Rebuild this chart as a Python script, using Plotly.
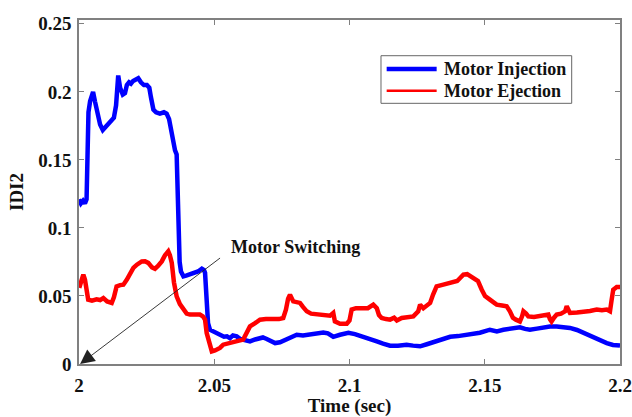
import plotly.graph_objects as go

# Motor Injection (blue)
inj_t = [2.0000, 2.0007, 2.0015, 2.0022, 2.0028, 2.0031, 2.0035, 2.0041, 2.0052, 2.0059,
         2.0067, 2.0078, 2.0088, 2.0100, 2.0115, 2.0129, 2.0137, 2.0142, 2.0145, 2.0152,
         2.0162, 2.0170, 2.0177, 2.0185, 2.0192, 2.0200, 2.0211, 2.0219, 2.0229, 2.0240,
         2.0251, 2.0260, 2.0266, 2.0275, 2.0285, 2.0299, 2.0314, 2.0324, 2.0333, 2.0340,
         2.0349, 2.0355, 2.0361, 2.0364, 2.0367, 2.0372, 2.0377, 2.0386, 2.0396, 2.0410,
         2.0425, 2.0440, 2.0454, 2.0462, 2.0466, 2.0470, 2.0472, 2.0477, 2.0484, 2.0495,
         2.0506, 2.0514, 2.0525, 2.0536, 2.0547, 2.0558, 2.0569, 2.0583, 2.0595, 2.0606,
         2.0621, 2.0632, 2.0651, 2.0669, 2.0680, 2.0694, 2.0706, 2.0725, 2.0743, 2.0768,
         2.0784, 2.0805, 2.0828, 2.0854, 2.0876, 2.0903, 2.0920, 2.0940, 2.0965, 2.0996,
         2.1020, 2.1051, 2.1076, 2.1101, 2.1124, 2.1150, 2.1179, 2.1211, 2.1235, 2.1261,
         2.1286, 2.1310, 2.1338, 2.1372, 2.1401, 2.1433, 2.1457, 2.1482, 2.1519, 2.1545,
         2.1569, 2.1601, 2.1630, 2.1649, 2.1667, 2.1693, 2.1716, 2.1741, 2.1766, 2.1789,
         2.1815, 2.1841, 2.1864, 2.1889, 2.1914, 2.1933, 2.1951, 2.1974, 2.2000]
inj_v = [0.121, 0.118, 0.120, 0.118, 0.121, 0.150, 0.185, 0.193, 0.200, 0.193,
         0.186, 0.176, 0.172, 0.175, 0.178, 0.181, 0.190, 0.207, 0.212, 0.203,
         0.198, 0.199, 0.205, 0.207, 0.206, 0.208, 0.209, 0.210, 0.207, 0.205,
         0.205, 0.203, 0.196, 0.187, 0.185, 0.184, 0.185, 0.184, 0.180, 0.172,
         0.1625, 0.157, 0.154, 0.120, 0.0865, 0.075, 0.068, 0.0644, 0.065, 0.0657,
         0.067, 0.068, 0.070, 0.069, 0.067, 0.050, 0.0377, 0.030, 0.0252, 0.024,
         0.023, 0.022, 0.0215, 0.020, 0.0203, 0.019, 0.021, 0.0203, 0.0185, 0.0179,
         0.0172, 0.0166, 0.018, 0.019, 0.0195, 0.0184, 0.017, 0.0154, 0.016, 0.0179,
         0.020, 0.0215, 0.021, 0.0215, 0.022, 0.0232, 0.0225, 0.020, 0.0215, 0.023,
         0.022, 0.020, 0.019, 0.0166, 0.015, 0.0135, 0.0135, 0.0142, 0.0135, 0.013,
         0.0145, 0.0159, 0.018, 0.020, 0.0205, 0.0215, 0.022, 0.023, 0.0252, 0.024,
         0.0252, 0.026, 0.027, 0.0258, 0.0252, 0.026, 0.027, 0.0275, 0.0276, 0.0272,
         0.0265, 0.025, 0.0228, 0.021, 0.0184, 0.017, 0.0154, 0.014, 0.0135]

# Motor Ejection (red)
ej_t = [2.0001, 2.0007, 2.0016, 2.0022, 2.0028, 2.0034, 2.0048, 2.0065, 2.0078, 2.0090,
        2.0104, 2.0121, 2.0129, 2.0139, 2.0152, 2.0164, 2.0177, 2.0189, 2.0201, 2.0214,
        2.0232, 2.0244, 2.0256, 2.0270, 2.0281, 2.0292, 2.0306, 2.0318, 2.0330, 2.0336,
        2.0343, 2.0351, 2.0361, 2.0373, 2.0386, 2.0398, 2.0410, 2.0429, 2.0447, 2.0458,
        2.0466, 2.0472, 2.0478, 2.0484, 2.0491, 2.0503, 2.0521, 2.0533, 2.0552, 2.0570,
        2.0588, 2.0607, 2.0617, 2.0632, 2.0651, 2.0669, 2.0691, 2.0718, 2.0739, 2.0755,
        2.0765, 2.0773, 2.0780, 2.0792, 2.0806, 2.0817, 2.0828, 2.0842, 2.0858, 2.0879,
        2.0902, 2.0928, 2.0940, 2.0946, 2.0965, 2.0990, 2.1000, 2.1008, 2.1024, 2.1039,
        2.1051, 2.1068, 2.1088, 2.1101, 2.1109, 2.1119, 2.1135, 2.1150, 2.1165, 2.1175,
        2.1193, 2.1213, 2.1236, 2.1254, 2.1261, 2.1273, 2.1287, 2.1298, 2.1309, 2.1322,
        2.1347, 2.1364, 2.1384, 2.1398, 2.1409, 2.1421, 2.1435, 2.1446, 2.1464, 2.1475,
        2.1489, 2.1501, 2.1519, 2.1544, 2.1564, 2.1581, 2.1593, 2.1604, 2.1615, 2.1630,
        2.1638, 2.1643, 2.1653, 2.1661, 2.1682, 2.1704, 2.1719, 2.1735, 2.1741, 2.1747,
        2.1756, 2.1766, 2.1782, 2.1797, 2.1803, 2.1810, 2.1815, 2.1841, 2.1864, 2.1889,
        2.1914, 2.1933, 2.1951, 2.1963, 2.1969, 2.1975, 2.1988, 2.2000]
ej_v = [0.0559, 0.060, 0.0657, 0.062, 0.052, 0.0473, 0.0465, 0.0475, 0.047, 0.0485,
        0.046, 0.0449, 0.049, 0.057, 0.058, 0.0583, 0.062, 0.066, 0.0706, 0.073,
        0.0754, 0.0755, 0.0743, 0.071, 0.070, 0.072, 0.0754, 0.080, 0.0828, 0.080,
        0.0743, 0.060, 0.0497, 0.044, 0.040, 0.037, 0.0363, 0.036, 0.0363, 0.035,
        0.0326, 0.0228, 0.0179, 0.012, 0.0093, 0.010, 0.0118, 0.0142, 0.0154, 0.0166,
        0.017, 0.0179, 0.022, 0.0276, 0.030, 0.0326, 0.033, 0.0326, 0.033, 0.0338,
        0.040, 0.048, 0.051, 0.046, 0.0455, 0.0449, 0.042, 0.0387, 0.037, 0.0363,
        0.036, 0.0355, 0.0375, 0.0313, 0.0296, 0.0296, 0.032, 0.040, 0.041, 0.041,
        0.0404, 0.041, 0.0436, 0.041, 0.036, 0.0338, 0.033, 0.0326, 0.034, 0.032,
        0.0338, 0.0345, 0.035, 0.0387, 0.0436, 0.041, 0.043, 0.0449, 0.051, 0.057,
        0.0583, 0.059, 0.0596, 0.061, 0.0632, 0.0657, 0.066, 0.0644, 0.062, 0.061,
        0.0546, 0.050, 0.0473, 0.0436, 0.043, 0.0424, 0.0387, 0.034, 0.0326, 0.0313,
        0.035, 0.0387, 0.037, 0.035, 0.0345, 0.035, 0.0355, 0.0363, 0.033, 0.0313,
        0.034, 0.0363, 0.037, 0.0387, 0.0424, 0.039, 0.0375, 0.0378, 0.038, 0.039,
        0.040, 0.0395, 0.040, 0.0387, 0.047, 0.0546, 0.0566, 0.0566]

series_names = ["Motor Injection", "Motor Ejection"]
series_colors = ["#0000ff", "#ff0000"]

x_ticks = [2, 2.05, 2.1, 2.15, 2.2]
x_tick_labels = ["2", "2.05", "2.1", "2.15", "2.2"]
y_ticks = [0, 0.05, 0.1, 0.15, 0.2, 0.25]
y_tick_labels = ["0", "0.05", "0.1", "0.15", "0.2", "0.25"]

# annotation: arrow head at switching instant, tail near label
switch_point = (2.0004, 0.0)
arrow_tail = (2.0527, 0.0787)
label_pos = (2.0553, 0.0862)
label_text = "Motor Switching"

FONT = "Liberation Serif"
TXT = "#111111"

fig = go.Figure()
fig.add_trace(go.Scatter(x=inj_t, y=inj_v, mode="lines", name=series_names[0],
                         line=dict(color=series_colors[0], width=4.5)))
fig.add_trace(go.Scatter(x=ej_t, y=ej_v, mode="lines", name=series_names[1],
                         line=dict(color=series_colors[1], width=4.5)))

fig.add_annotation(x=switch_point[0], y=switch_point[1], ax=arrow_tail[0], ay=arrow_tail[1],
                   xref="x", yref="y", axref="x", ayref="y", text="", showarrow=True,
                   arrowhead=2, arrowsize=3.2, arrowwidth=0.9, arrowcolor="#222222")
fig.add_annotation(x=label_pos[0], y=label_pos[1], xref="x", yref="y", text=label_text,
                   showarrow=False, xanchor="left", yanchor="middle",
                   font=dict(family=FONT, size=18, color=TXT, weight="bold"))

# legend box drawn in paper coordinates
fig.add_shape(type="rect", xref="paper", yref="paper", x0=0.5582, x1=0.9107,
              y0=0.7578, y1=0.8962, line=dict(color="#666666", width=1), fillcolor="white",
              layer="above")
legend_rows = [0.8576, 0.7945]
legend_widths = [4.5, 2.5]
for name, color, yrow, lw in zip(series_names, series_colors, legend_rows, legend_widths):
    fig.add_shape(type="line", xref="paper", yref="paper", x0=0.5687, x1=0.6611,
                  y0=yrow, y1=yrow, line=dict(color=color, width=lw), layer="above")
    fig.add_annotation(x=0.6704, y=yrow, xref="paper", yref="paper", text=name,
                       showarrow=False, xanchor="left", yanchor="middle",
                       font=dict(family=FONT, size=18, color=TXT, weight="bold"))

axis_common = dict(showline=True, linecolor="#808080", linewidth=1.5, mirror="ticks",
                   ticks="inside", ticklen=5, tickcolor="#808080", showgrid=False,
                   zeroline=False, automargin=False,
                   tickfont=dict(family=FONT, size=19, color=TXT, weight="bold"))

fig.update_xaxes(range=[2, 2.2], tickvals=x_ticks, ticktext=x_tick_labels,
                 ticklabelstandoff=3,
                 title=dict(text="Time (sec)", standoff=2,
                            font=dict(family=FONT, size=19, color=TXT, weight="bold")),
                 **axis_common)
fig.update_yaxes(range=[0, 0.2528], tickvals=y_ticks, ticktext=y_tick_labels,
                 ticklabelstandoff=2,
                 title=dict(text="IDI2", standoff=10,
                            font=dict(family=FONT, size=19, color=TXT, weight="bold")),
                 **axis_common)

fig.update_layout(
    width=632, height=417,
    margin=dict(l=79, r=12, t=20, b=53),
    plot_bgcolor="white", paper_bgcolor="white",
    showlegend=False,
)

fig.write_html("out.html")
